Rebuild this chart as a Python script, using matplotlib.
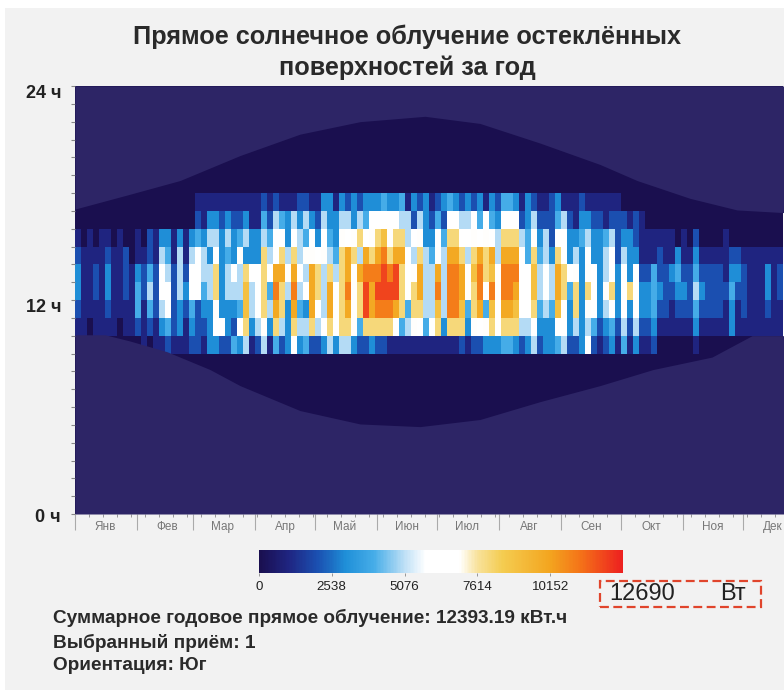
import numpy as np
import matplotlib
matplotlib.use('Agg')
import matplotlib.pyplot as plt
from matplotlib.colors import LinearSegmentedColormap
from matplotlib.patches import Rectangle
from matplotlib.cm import ScalarMappable
from matplotlib.colors import Normalize
from matplotlib.transforms import ScaledTranslation

plt.rcParams['font.family'] = ['Liberation Sans', 'DejaVu Sans']

TITLE = 'Прямое солнечное облучение остеклённых\nповерхностей за год'
MONTHS = ['Янв', 'Фев', 'Мар', 'Апр', 'Май', 'Июн', 'Июл', 'Авг', 'Сен', 'Окт', 'Ноя', 'Дек']
MONTH_START = [0, 31, 59, 90, 120, 151, 181, 212, 243, 273, 304, 334]
CBAR_TICKS = [0, 2538, 5076, 7614, 10152]
CBAR_MAX = 12690

# hourly irradiance, one char per 3 days, level * 1000 W
# rows go from hour 17-18 down to hour 9-10, one group of strings per 60 days
H17 = ["00000 00000 00000 00000", "11111 11111 12121 11221", "13313 23233 34334 13231",
       "23432 32313 24431 32112", "31112 11111 10000 00000", "00000 00000 00000 000"]
H16 = ["00000 00000 00000 00000", "21332 32231 14254 35353", "25335 53546 66665 52532",
       "42665 56464 36662 35222", "45213 32212 22121 00000", "00000 00000 00000 000"]
H15 = ["10101 10100 10213 31313", "43553 53453 35466 36546", "36437 67867 89788 56733",
       "64886 67676 58885 47352", "66334 53345 23321 11111", "01020 00010 00000 000"]
H14 = ["21111 21120 11215 41515", "65363 43733 38568 58577", "67548 a85a8 ab8aa 65854",
       "75aa8 58a8a 5aaa6 48453", "86353 63356 25331 11211", "31131 11112 21111 111"]
H13 = ["31121 31121 32426 52526", "65583 56586 686aa 7a65a", "85858 a7abb bcbc8 67a55",
       "a5bba 79b89 7bbb6 69565", "a8673 76356 36362 24223", "42242 22213 32111 312"]
H12 = ["31121 31121 42526 62536", "64583 55595 684b8 5b56a", "85a68 b78ca cccc8 68a55",
       "b5bba 78b7b 7bba6 69565", "a8483 86378 36863 34322", "33253 22224 22111 312"]
H11 = ["21111 21111 41425 62324", "23373 33495 685a8 3a43a", "65a68 a78ca bbba8 48855",
       "95bb9 48a49 6aa96 68454", "97383 76356 36363 34221", "22242 22213 12111 211"]
H10 = ["11011 11011 21213 42313", "22366 32683 57385 38558", "56868 87488 88864 57646",
       "83888 37678 68885 56333", "66353 54234 25252 23111", "11131 11113 11111 111"]
H09 = ["00000 00000 01011 21112", "21332 24351 25142 36342", "23535 53223 22111 11111",
       "11112 12233 34432 35233", "45223 62123 14131 12000", "00010 00000 00000 000"]

# sun above the horizon: day of year and hour, read from the edge of the dark zone
SUNSET_DAY = [0, 26.5, 52.5, 82.5, 112.5, 142.5, 175, 202.5, 232.5, 262.5, 281, 307.5, 331, 354.5]
SUNSET_HOUR = [17.1, 17.9, 18.7, 20.1, 21.3, 22.0, 22.3, 21.9, 20.8, 19.6, 18.7, 17.7, 17.05, 16.9]
SUNRISE_DAY = [0, 15, 27.5, 46, 67.5, 82.5, 112.5, 142.5, 172.5, 202.5, 232.5, 262.5, 289, 318.5, 338.5, 354.5]
SUNRISE_HOUR = [10.05, 10.05, 9.7, 9.1, 8.1, 7.2, 5.8, 5.05, 4.9, 5.3, 6.3, 7.2, 8.1, 8.8, 10.0, 10.0]

LEVELS = '0123456789abc'


def parse_row(groups):
    chars = ''.join(groups).replace(' ', '')
    return [LEVELS.index(c) * 1000 for c in chars]


hour_rows = {9: H09, 10: H10, 11: H11, 12: H12, 13: H13, 14: H14, 15: H15, 16: H16, 17: H17}
grid = np.zeros((24, 118))
for h, groups in hour_rows.items():
    grid[h, :] = parse_row(groups)

stops = [(0, '#1a0f4f'), (1000, '#1f2480'), (2000, '#1b4fb0'), (2538, '#1c6fc4'), (3000, '#1f8fd8'),
         (4000, '#46ade8'), (5076, '#bfe0f6'), (5800, '#ffffff'), (7000, '#ffffff'), (7614, '#f8e29c'),
         (8500, '#f4cc50'), (10152, '#f3a51f'), (11200, '#f47418'), (12690, '#ed2020')]
cmap = LinearSegmentedColormap.from_list('sun', [(v / CBAR_MAX, c) for v, c in stops])
norm = Normalize(0, CBAR_MAX)

W, H = 784, 693
fig = plt.figure(figsize=(W / 100, H / 100), dpi=100, facecolor='white')
fig.patches.append(Rectangle((5 / W, 3 / H), 779 / W, 682 / H, transform=fig.transFigure,
                             facecolor='#f2f2f2', edgecolor='none', zorder=-1))

ax = fig.add_axes([75 / W, (H - 514) / H, 709 / W, 428 / H])
x_edges = np.arange(119) * 3
ax.pcolormesh(x_edges, np.arange(25), grid, cmap=cmap, norm=norm, shading='flat')
night = '#2d2566'
ax.fill_between(SUNSET_DAY, SUNSET_HOUR, 24, color=night, lw=0, zorder=3)
ax.fill_between(SUNRISE_DAY, 0, SUNRISE_HOUR, color=night, lw=0, zorder=3)
ax.set_xlim(0, 354.5)
ax.set_ylim(0, 24)
for s in ax.spines.values():
    s.set_visible(False)

ax.set_yticks([0, 12, 24])
ax.set_yticklabels(['0 ч', '12 ч', '24 ч'], fontsize=13, fontweight='bold', color='#222222')
ax.set_yticks(np.arange(25), minor=True)
ax.tick_params(axis='y', which='both', length=3, width=0.8, color='#888888', pad=7)
for lab, dy in zip(ax.get_yticklabels(), [-1, -5, -6]):
    lab.set_transform(lab.get_transform() + ScaledTranslation(0, dy / 100, fig.dpi_scale_trans))

ax.set_xticks(MONTH_START)
ax.set_xticklabels([])
ax.set_xticks(np.arange(0, 355, 7), minor=True)
ax.tick_params(axis='x', which='major', length=11.5, width=0.8, color='#aaaaaa')
ax.tick_params(axis='x', which='minor', length=2, width=0.6, color='#888888')
for start, m in zip(MONTH_START, MONTHS):
    ax.annotate(m, (start + 15, 0), xytext=(0, -9.5), textcoords='offset points', ha='center', va='center',
                fontsize=8.5, color='#777777', annotation_clip=False)

fig.text(407 / W, 1 - 52 / H, TITLE, ha='center', va='center', fontsize=18.2, fontweight='bold',
         color='#2a2a2a', linespacing=1.32)

cax = fig.add_axes([259 / W, (H - 573) / H, 364 / W, 23 / H])
cb = fig.colorbar(ScalarMappable(norm=norm, cmap=cmap), cax=cax, orientation='horizontal')
cb.outline.set_visible(False)
cb.set_ticks(CBAR_TICKS)
cb.set_ticklabels([str(t) for t in CBAR_TICKS])
cax.tick_params(length=2, width=0.6, color='#888888', labelsize=9.6, pad=4, labelcolor='#222222')

fig.patches.append(Rectangle((600 / W, 1 - 607 / H), 161 / W, 26 / H, transform=fig.transFigure, fill=False,
                             edgecolor='#e0452c', linestyle=(0, (4, 2)), linewidth=1.6))
fig.text(609 / W, 1 - 594 / H, str(CBAR_MAX), fontsize=17, va='center', color='#222222')
fig.text(720 / W, 1 - 594 / H, 'Вт', fontsize=17, va='center', color='#222222')

info = ['Суммарное годовое прямое облучение: 12393.19 кВт.ч', 'Выбранный приём: 1', 'Ориентация: Юг']
for txt, y in zip(info, [618, 643, 665]):
    fig.text(53 / W, 1 - y / H, txt, fontsize=13.7, fontweight='bold', va='center', color='#2a2a2a')

fig.savefig('out.png', dpi=100)
